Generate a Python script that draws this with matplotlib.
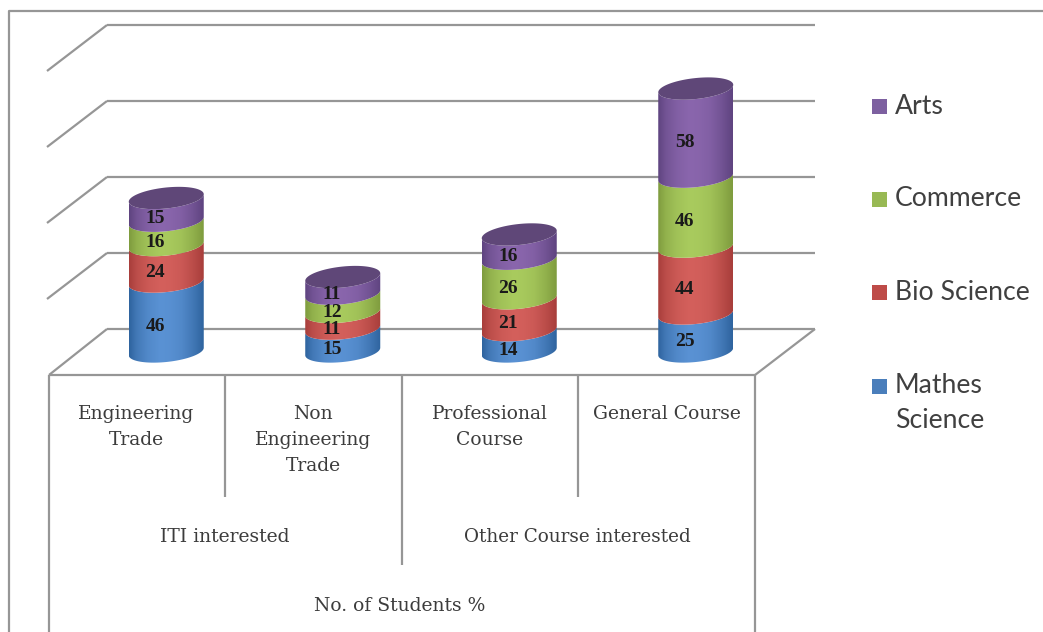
from matplotlib import pyplot as plt
from matplotlib.colors import to_rgb
from matplotlib.patches import Polygon
import numpy as np

# data
trades = ['Engineering\nTrade', 'Non\nEngineering\nTrade', 'Professional\nCourse', 'General Course']
groups = ['ITI interested', 'Other Course interested']
axis_title = 'No. of Students %'
mathes = [46, 15, 14, 25]
bio = [24, 11, 21, 44]
commerce = [16, 12, 26, 46]
arts = [15, 11, 16, 58]
series = [mathes, bio, commerce, arts]
grid_values = [0, 50, 100, 150, 200]
legend_names = ['Arts', 'Commerce', 'Bio Science', 'Mathes\nScience']

# dark edge, light middle
colors = [('#2f649f', '#5a92d4'), ('#a83e3b', '#d4605c'), ('#7f9c3e', '#a9cb5e'), ('#5f4480', '#8a66ad')]
legend_colors = ['#7d60a0', '#98b954', '#be4b48', '#4a7ebb']
cap = '#5f4778'
line = '#969696'
text_color = '#3c3c3c'
W, H = 1043, 632
PX = 1.52          # pixels per unit
BASE = 351.5       # y pixel of value 0 at the bar centres
RX, RY, SHEAR = 37.5, 10.5, 0.1

fig = plt.figure(figsize=(W / 100, H / 100), dpi=100, facecolor='white')

# frame and text in pixel coordinates
ax = fig.add_axes([0, 0, 1, 1])
ax.set_xlim(0, W)
ax.set_ylim(H, 0)
ax.axis('off')


def seg(x, y, lw=1.6):
    ax.plot(x, y, color=line, lw=lw, solid_capstyle='butt', zorder=1)


seg([9, 9, W], [H, 11, 11])
for v in grid_values:
    y = 329 - v * PX
    seg([107, 815], [y, y])
    if v > 0:
        seg([107, 47], [y, y + 46])
seg([107, 49], [329, 375])
seg([815, 755], [329, 375])
seg([49, 755], [375, 375])
seg([49, 49], [375, H])
seg([755, 755], [375, H])
seg([225, 225], [375, 497])
seg([402, 402], [375, 565])
seg([578, 578], [375, 497])

serif = 'DejaVu Serif'
tick_x = [136, 313, 490, 667]
for x, t in zip(tick_x, trades):
    ax.text(x, 405, t, family=serif, fontsize=13.5, color=text_color, ha='center', va='top', linespacing=1.56)
ax.text(225, 537, groups[0], family=serif, fontsize=13.5, color=text_color, ha='center', va='center')
ax.text(577, 537, groups[1], family=serif, fontsize=13.2, color=text_color, ha='center', va='center')
ax.text(400, 606, axis_title, family=serif, fontsize=13.5, color=text_color, ha='center', va='center')

# legend
swatch_y = [106, 199, 292, 386]
label_y = [106, 199, 292, 403]
for name, ys, yt, c in zip(legend_names, swatch_y, label_y, legend_colors):
    ax.add_patch(plt.Rectangle((872, ys - 7.5), 15, 15, color=c, lw=0))
    ax.text(895, yt, name, family='Lato', fontsize=19.2, color='#404040', va='center', linespacing=1.48)

# bars on their own category / value axes, lined up with the pixel frame
bars = fig.add_axes([0, 0, 1, 1])
bars.patch.set_alpha(0)
bars.axis('off')
step = 176.5
xlim = (-166.25 / step, (W - 166.25) / step)
ylim = (-(H - BASE) / PX, BASE / PX)

rx = RX / step
t = np.linspace(0, np.pi, 60)
ramp = np.array([0, .1, .25, .42, .55, .7, .85, 1])
shade = np.array([0.0, .45, .8, 1, .95, .8, .45, 0.0])


def front_edge(i, v):
    # lower half of the tilted ellipse at value v
    dx = np.cos(t)
    return i + rx * dx, v + (SHEAR * RX * dx - RY * np.sin(t)) / PX


for i in range(len(trades)):
    bottom = 0
    for k, s in enumerate(series):
        top = bottom + s[i]
        x0, y0 = front_edge(i, bottom)
        x1, y1 = front_edge(i, top)
        pts = np.r_[np.c_[x0, y0], np.c_[x1, y1][::-1]]
        poly = Polygon(pts, closed=True, fc='none', ec='none')
        bars.add_patch(poly)
        grad = np.interp(np.linspace(0, 1, 100), ramp, shade)[None, :, None]
        img = np.array(to_rgb(colors[k][0])) * (1 - grad) + np.array(to_rgb(colors[k][1])) * grad
        im = bars.imshow(img, extent=(i - rx, i + rx, bottom - 20, top + 20), aspect='auto', zorder=2)
        im.set_clip_path(poly)
        bars.text(i - 11 / step, (bottom + top) / 2 - 9.5 / PX, str(s[i]), family='Liberation Serif',
                  fontweight='bold', fontsize=14, color='#1a1a1a', ha='center', va='center', zorder=5)
        bottom = top
    a = np.linspace(0, 2 * np.pi, 100)
    bars.fill(i + rx * np.cos(a), bottom + (SHEAR * RX * np.cos(a) + RY * np.sin(a)) / PX,
              color=cap, lw=0, zorder=4)

bars.set_xlim(xlim)
bars.set_ylim(ylim)

plt.savefig('out.png', dpi=100)
